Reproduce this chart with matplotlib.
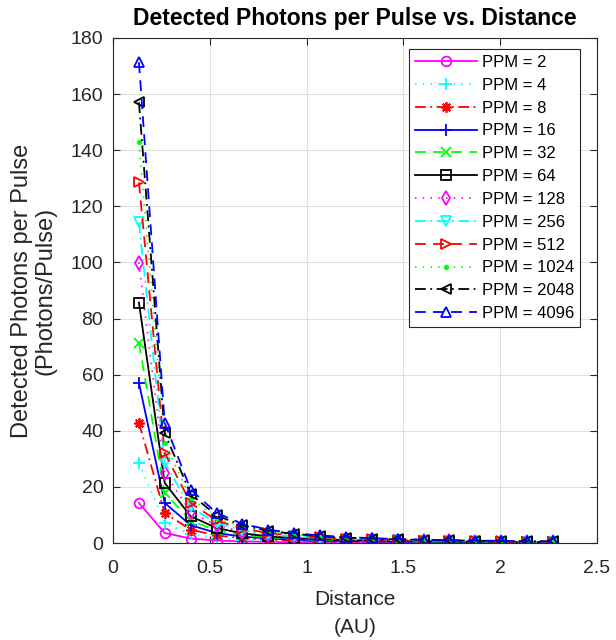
import matplotlib
matplotlib.use("Agg")
import matplotlib.pyplot as plt

plt.rcParams['font.family'] = ['Liberation Sans', 'DejaVu Sans']

distance = [0.134, 0.267, 0.401, 0.535, 0.668, 0.802, 0.936, 1.070, 1.203,
            1.337, 1.471, 1.604, 1.738, 1.872, 2.005, 2.139, 2.273]

ppm_labels = ['PPM = 2', 'PPM = 4', 'PPM = 8', 'PPM = 16', 'PPM = 32', 'PPM = 64',
              'PPM = 128', 'PPM = 256', 'PPM = 512', 'PPM = 1024', 'PPM = 2048', 'PPM = 4096']

ppm_2 = [14.28, 3.57, 1.59, 0.89, 0.57, 0.40, 0.29, 0.22, 0.18, 0.14, 0.12, 0.10, 0.08, 0.07, 0.06, 0.06, 0.05]
ppm_4 = [28.56, 7.14, 3.17, 1.79, 1.14, 0.79, 0.58, 0.45, 0.35, 0.29, 0.24, 0.20, 0.17, 0.15, 0.13, 0.11, 0.10]
ppm_8 = [42.84, 10.71, 4.76, 2.68, 1.71, 1.19, 0.87, 0.67, 0.53, 0.43, 0.35, 0.30, 0.25, 0.22, 0.19, 0.17, 0.15]
ppm_16 = [57.12, 14.28, 6.35, 3.57, 2.28, 1.59, 1.17, 0.89, 0.71, 0.57, 0.47, 0.40, 0.34, 0.29, 0.25, 0.22, 0.20]
ppm_32 = [71.40, 17.85, 7.93, 4.46, 2.86, 1.98, 1.46, 1.12, 0.88, 0.71, 0.59, 0.50, 0.42, 0.36, 0.32, 0.28, 0.25]
ppm_64 = [85.68, 21.42, 9.52, 5.36, 3.43, 2.38, 1.75, 1.34, 1.06, 0.86, 0.71, 0.60, 0.51, 0.44, 0.38, 0.33, 0.30]
ppm_128 = [99.96, 24.99, 11.11, 6.25, 4.00, 2.78, 2.04, 1.56, 1.23, 1.00, 0.83, 0.69, 0.59, 0.51, 0.44, 0.39, 0.35]
ppm_256 = [114.24, 28.56, 12.69, 7.14, 4.57, 3.17, 2.33, 1.79, 1.41, 1.14, 0.94, 0.79, 0.68, 0.58, 0.51, 0.45, 0.40]
ppm_512 = [128.52, 32.13, 14.28, 8.03, 5.14, 3.57, 2.62, 2.01, 1.59, 1.29, 1.06, 0.89, 0.76, 0.66, 0.57, 0.50, 0.44]
ppm_1024 = [142.80, 35.70, 15.87, 8.93, 5.71, 3.97, 2.91, 2.23, 1.76, 1.43, 1.18, 0.99, 0.84, 0.73, 0.63, 0.56, 0.49]
ppm_2048 = [157.08, 39.27, 17.45, 9.82, 6.28, 4.36, 3.21, 2.45, 1.94, 1.57, 1.30, 1.09, 0.93, 0.80, 0.70, 0.61, 0.54]
ppm_4096 = [171.36, 42.84, 19.04, 10.71, 6.85, 4.76, 3.50, 2.68, 2.12, 1.71, 1.42, 1.19, 1.01, 0.87, 0.76, 0.67, 0.59]

series = [ppm_2, ppm_4, ppm_8, ppm_16, ppm_32, ppm_64,
          ppm_128, ppm_256, ppm_512, ppm_1024, ppm_2048, ppm_4096]

ASTER = (8, 2, 0)
DASH = {'-': None, '--': (6, 4), ':': (0.8, 3.5), '-.': (6, 2.5, 1, 2.5)}

styles = [
    ('#FF00FF', '-', 'o'),
    ('#00FFFF', ':', '+'),
    ('#FF0000', '-.', ASTER),
    ('#0000FF', '-', '+'),
    ('#00FF00', '--', 'x'),
    ('#000000', '-', 's'),
    ('#FF00FF', ':', 'd'),
    ('#00FFFF', '-.', 'v'),
    ('#FF0000', '--', '>'),
    ('#00FF00', ':', '.'),
    ('#000000', '-.', '<'),
    ('#0000FF', '--', '^'),
]
MSIZE = {'+': 8, 'x': 6.5, '.': 5}

fig = plt.figure(figsize=(6.16, 6.4), dpi=100)
ax = fig.add_axes([113/616, 1 - 543/640, (597-113)/616, (543-38)/640])

for ys, lab, (c, ls, m) in zip(series, ppm_labels, styles):
    kw = {}
    if DASH[ls] is not None:
        kw['dashes'] = DASH[ls]
    ms = 7.5 if m == ASTER else MSIZE.get(m, 7) if isinstance(m, str) else 7
    ax.plot(distance, ys, color=c, linestyle=ls, marker=m, markersize=ms,
            markerfacecolor='none' if m != '.' else c, markeredgecolor=c,
            markeredgewidth=1.3, linewidth=1.3, label=lab, **kw)

ax.set_xlim(0, 2.5)
ax.set_ylim(0, 180)
ax.set_xticks([0, 0.5, 1, 1.5, 2, 2.5])
ax.set_xticklabels(['0', '0.5', '1', '1.5', '2', '2.5'])
ax.set_yticks(range(0, 181, 20))
ax.grid(True, color='#DFDFDF', linewidth=0.8)
ax.set_axisbelow(True)
ax.tick_params(direction='in', length=5, labelsize=14, colors='#262626',
               top=True, right=True)
ax.tick_params(axis='y', pad=7)
ax.tick_params(axis='x', pad=12.5)
for s in ax.spines.values():
    s.set_color('#262626')
    s.set_linewidth(0.8)

ax.set_xlabel('Distance\n(AU)', fontsize=15, color='#262626', labelpad=9, linespacing=1.6)
ax.set_ylabel('Detected Photons per Pulse\n(Photons/Pulse)', fontsize=17, color='#262626', labelpad=10, linespacing=1.12)
ax.set_title('Detected Photons per Pulse vs. Distance', fontsize=16.5, fontweight='bold', pad=9)

leg = ax.legend(loc='upper right', bbox_to_anchor=(0.965, 0.978), fontsize=12,
                frameon=True, fancybox=False, edgecolor='#262626', framealpha=1,
                handlelength=3.7, borderpad=0.35, labelspacing=0.47, handletextpad=0.3,
                borderaxespad=0)
leg.get_frame().set_linewidth(0.8)

fig.savefig('out.png', dpi=100)
